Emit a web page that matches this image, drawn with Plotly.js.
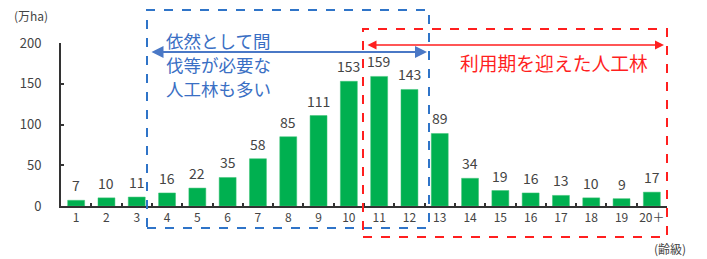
<!DOCTYPE html>
<html><head><meta charset="utf-8">
<script src="https://cdn.plot.ly/plotly-3.0.1.min.js"></script>
<style>html,body{margin:0;padding:0;background:#fff}#c{width:707px;height:259px}</style>
</head><body><div id="c"></div>
<script>
const categories = ["1","2","3","4","5","6","7","8","9","10","11","12","13","14","15","16","17","18","19","20＋"];
const areas = [7,10,11,16,22,35,58,85,111,153,159,143,89,34,19,16,13,10,9,17];
const yTicks = [0,50,100,150,200];
const unitLabel = "(万ha)";
const xUnitLabel = "(齢級)";
const blueText = ["依然として間","伐等が必要な","人工林も多い"];
const redText = "利用期を迎えた人工林";

const FONT = '"Noto Sans CJK JP", "Noto Sans", sans-serif';
const L = 61, R = 667, T = 43, B = 206;
const px = x => (x - L) / (R - L);
const py = y => (B - y) / (B - T);
const BLUE = '#2f74c8', RED = '#ff1f1f';

const trace = {
  type: 'bar', x: categories, y: areas,
  marker: {color: '#00b050', line: {color: '#3cc476', width: 0.5}},
  hoverinfo: 'none'
};

// value labels placed at each category index (category axes map index -> position)
const valueLabels = categories.map((c, i) => ({
  x: i, y: areas[i], xref: 'x', yref: 'y', text: String(areas[i]), showarrow: false,
  yanchor: 'middle', yshift: 15, font: {family: FONT, size: 14, color: '#444'}
}));

const shapes = [
  {type:'rect', xref:'paper', yref:'paper', x0:px(147), x1:px(429), y0:py(228), y1:py(10),
   line:{color:BLUE, width:2, dash:'dash'}},
  {type:'rect', xref:'paper', yref:'paper', x0:px(363), x1:px(667), y0:py(237), y1:py(29),
   line:{color:RED, width:2, dash:'dash'}}
];

const annotations = [
  ...valueLabels,
  {xref:'paper', yref:'paper', x:px(427), y:py(52), ax:-277, ay:0, text:'', showarrow:true,
   arrowside:'end+start', arrowhead:2, arrowsize:1.2, arrowwidth:2, arrowcolor:'#4a78c6'},
  {xref:'paper', yref:'paper', x:px(664), y:py(45), ax:-298, ay:0, text:'', showarrow:true,
   arrowside:'end+start', arrowhead:2, arrowsize:1.2, arrowwidth:1.5, arrowcolor:RED},
  ...blueText.map((t,i) => ({xref:'paper', yref:'paper', x:px(164), y:py(40 + i*24), xanchor:'left', yanchor:'middle',
    text:t, showarrow:false, font:{family:FONT, size:17.5, color:'#3a6fc4'}})),
  {xref:'paper', yref:'paper', x:px(554), y:py(62), xanchor:'center', yanchor:'middle',
    text:redText, showarrow:false, font:{family:FONT, size:18.8, color:RED}},
  {xref:'paper', yref:'paper', x:px(12), y:py(15), xanchor:'left', yanchor:'middle',
    text:unitLabel, showarrow:false, font:{family:FONT, size:12, color:'#444'}},
  {xref:'paper', yref:'paper', x:px(652), y:py(248), xanchor:'left', yanchor:'middle',
    text:xUnitLabel, showarrow:false, font:{family:FONT, size:12, color:'#444'}}
];

const layout = {
  width: 707, height: 259,
  margin: {l: L, r: 707 - R, t: T, b: 259 - B, pad: 0},
  paper_bgcolor: '#fff', plot_bgcolor: '#fff',
  showlegend: false, bargap: 0.44,
  font: {family: FONT, color: '#444'},
  xaxis: {type:'category', showline:true, linecolor:'#333', linewidth:2, ticks:'inside', ticklen:3,
    tickcolor:'#333', tickwidth:2, tickson:'boundaries', showgrid:false, zeroline:false, tickangle:0,
    tickfont:{family:FONT, size:12, color:'#444'}, fixedrange:true},
  yaxis: {range:[0,200], tickvals:yTicks, showline:true, linecolor:'#333', linewidth:2, ticks:'inside',
    ticklen:3, tickcolor:'#333', tickwidth:2, showgrid:false, zeroline:false, ticklabelstandoff:15,
    tickfont:{family:FONT, size:13, color:'#444'}, fixedrange:true},
  shapes, annotations
};
Plotly.newPlot('c', [trace], layout, {staticPlot:true, displayModeBar:false});
</script></body></html>
